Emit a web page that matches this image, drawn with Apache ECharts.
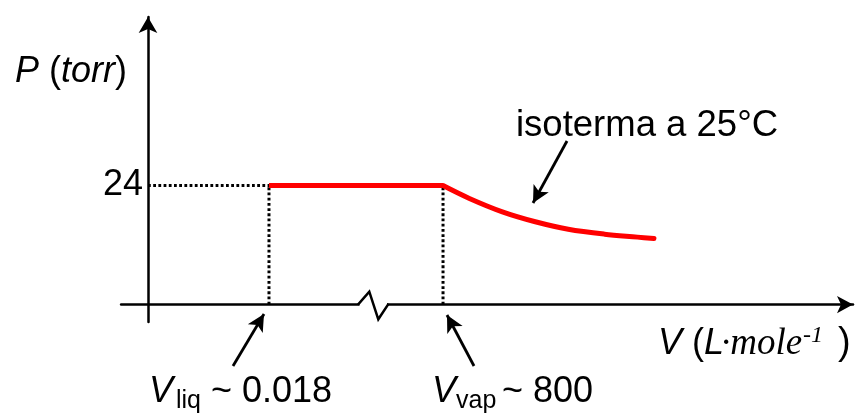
<!DOCTYPE html>
<html><head><meta charset="utf-8">
<script src="https://cdn.jsdelivr.net/npm/echarts@6/dist/echarts.min.js"></script>
<style>html,body{margin:0;padding:0;background:#fff}#c{width:858px;height:418px}</style>
</head><body><div id="c"></div>
<script>
// ---- data ----
const pSat = 24;                       // torr, vapour pressure at 25 °C
const vLiq = 0.018;                    // L/mol, liquid molar volume
const vVap = 800;                      // L/mol, vapour molar volume
const yTickValues = [24];              // only labelled pressure
// vapour branch of the isotherm
const vaporV = [800, 880, 980, 1080, 1180, 1290, 1390, 1440];
const vaporP = [24, 21.4, 18.7, 16.7, 15.2, 14.2, 13.6, 13.3];
// plateau (P = pSat) drawn on both sides of the axis break
const plateauLiqV = [0.018, 0.0356];
const plateauVapV = [630, 800];

const SANS = "'Liberation Sans', Arial, Helvetica, sans-serif";
const SERIF = "'Liberation Serif', 'Times New Roman', serif";
const BLACK = '#000';
const RED = '#ff0000';

const chart = echarts.init(document.getElementById('c'), null, {renderer: 'canvas'});

// arrow annotations: tail -> tip (pixel layout)
const arrowDefs = [
  {tail: [233, 366], tip: [264, 314]},
  {tail: [474, 366], tip: [447, 315]},
  {tail: [567, 141], tip: [533, 203]}
];
const AH = 17, AW = 13;
const arrowLines = arrowDefs.map(a => [{x: a.tail[0], y: a.tail[1]}, {x: a.tip[0], y: a.tip[1]}]);

const dotted = {color: BLACK, width: 3, type: [2.8, 2.4]};
const yRange = {min: -3.5, max: 58};

function txt(text, x, y, size, opts) {
  opts = opts || {};
  return {
    type: 'text', silent: true, z: 100,
    style: {
      text: text, x: x, y: y, fontSize: size,
      fontFamily: opts.family || SANS,
      fontStyle: opts.italic ? 'italic' : 'normal',
      fill: BLACK, verticalAlign: 'middle', align: 'left'
    }
  };
}
function rich(text, x, y, size) {
  return {
    type: 'text', silent: true, z: 100,
    style: {
      text: text, x: x, y: y, fontSize: size, fontFamily: SANS, fill: BLACK,
      verticalAlign: 'middle', align: 'left',
      rich: {
        i: {fontSize: size, fontFamily: SANS, fontStyle: 'italic', fill: BLACK},
        n: {fontSize: size, fontFamily: SANS, fontStyle: 'normal', fill: BLACK}
      }
    }
  };
}

const option = {
  animation: false,
  backgroundColor: '#fff',
  grid: [
    {left: 121.1, top: 17, width: 266.4, height: 304.9, containLabel: false},
    {left: 387, top: 17, width: 466, height: 304.9, containLabel: false}
  ],
  xAxis: [
    {gridIndex: 0, type: 'value', min: -0.004, max: 0.03563,
     axisLine: {show: true, onZero: true, lineStyle: {color: BLACK, width: 2.5}},
     axisTick: {show: false}, axisLabel: {show: false}, splitLine: {show: false}},
    {gridIndex: 1, type: 'value', min: 630, max: 2044,
     axisLine: {show: true, onZero: true, symbol: ['none', 'arrow'], symbolSize: [13, 16],
                lineStyle: {color: BLACK, width: 2.5}},
     axisTick: {show: false}, axisLabel: {show: false}, splitLine: {show: false}}
  ],
  yAxis: [
    Object.assign({gridIndex: 0, type: 'value',
     axisLine: {show: true, onZero: true, symbol: ['none', 'arrow'], symbolSize: [14, 16],
                lineStyle: {color: BLACK, width: 2.5}},
     axisTick: {show: false}, splitLine: {show: false},
     axisLabel: {show: true, customValues: yTickValues, color: BLACK, fontSize: 36,
                 fontFamily: SANS, margin: -22}}, yRange),
    Object.assign({gridIndex: 1, type: 'value', show: false,
     axisLine: {show: false}, splitLine: {show: false}}, yRange)
  ],
  series: [
    {type: 'line', xAxisIndex: 0, yAxisIndex: 0, symbol: 'none', silent: true, z: 2,
     data: [[0, pSat], [vLiq, pSat]], lineStyle: dotted,
     markLine: {silent: true, symbol: ['none', 'arrow'], symbolSize: [AW, AH],
                label: {show: false}, lineStyle: {color: BLACK, width: 2.8, type: 'solid'},
                emphasis: {disabled: true}, data: arrowLines}},
    {type: 'line', xAxisIndex: 0, yAxisIndex: 0, symbol: 'none', silent: true, z: 2,
     data: [[vLiq, 0], [vLiq, pSat]], lineStyle: dotted},
    {type: 'line', xAxisIndex: 1, yAxisIndex: 1, symbol: 'none', silent: true, z: 2,
     data: [[vVap, 0], [vVap, pSat]], lineStyle: dotted},
    {type: 'line', xAxisIndex: 0, yAxisIndex: 0, symbol: 'none', silent: true, z: 5,
     data: plateauLiqV.map(v => [v, pSat]), lineStyle: {color: RED, width: 5, cap: 'butt'}},
    {type: 'line', xAxisIndex: 1, yAxisIndex: 1, symbol: 'none', silent: true, z: 5,
     data: plateauVapV.map(v => [v, pSat]), lineStyle: {color: RED, width: 5, cap: 'butt'}},
    {type: 'line', xAxisIndex: 1, yAxisIndex: 1, symbol: 'none', silent: true, z: 5,
     smooth: 0.35, data: vaporV.map((v, i) => [v, vaporP[i]]),
     lineStyle: {color: RED, width: 5, cap: 'round'}}
  ],
  graphic: [
    // axis break: blank the axis between the segments and draw the zigzag
    {type: 'rect', silent: true, z: 40,
     shape: {x: 359.5, y: 300, width: 27.5, height: 9},
     style: {fill: '#fff', stroke: null}},
    {type: 'polyline', silent: true, z: 50,
     shape: {points: [[358, 304.6], [369.3, 291.7], [378.3, 319.3], [388, 304.6]]},
     style: {stroke: BLACK, lineWidth: 2.5, fill: null}},
    rich('{i|P}{n| (}{i|torr}{n|)}', 15, 72, 36),
    txt('isoterma a 25°C', 516, 126, 36.5),
    // V_liq ~ 0.018
    txt('V', 149, 392, 36, {italic: true}),
    txt('liq', 176, 401, 25),
    txt('~ 0.018', 211, 392, 36),
    // V_vap ~ 800
    txt('V', 432, 392, 36, {italic: true}),
    txt('vap', 456, 401, 25),
    txt('~ 800', 502, 392, 36),
    // V (L·mole-1)
    rich('{i|V}{n| (}{i|L}', 658, 344, 36),
    txt('·mole', 721, 344, 37, {italic: true, family: SERIF}),
    txt('-1', 803, 336, 24, {italic: true, family: SERIF}),
    txt(')', 838, 344, 38)
  ]
};
chart.setOption(option);
</script>
</body></html>
